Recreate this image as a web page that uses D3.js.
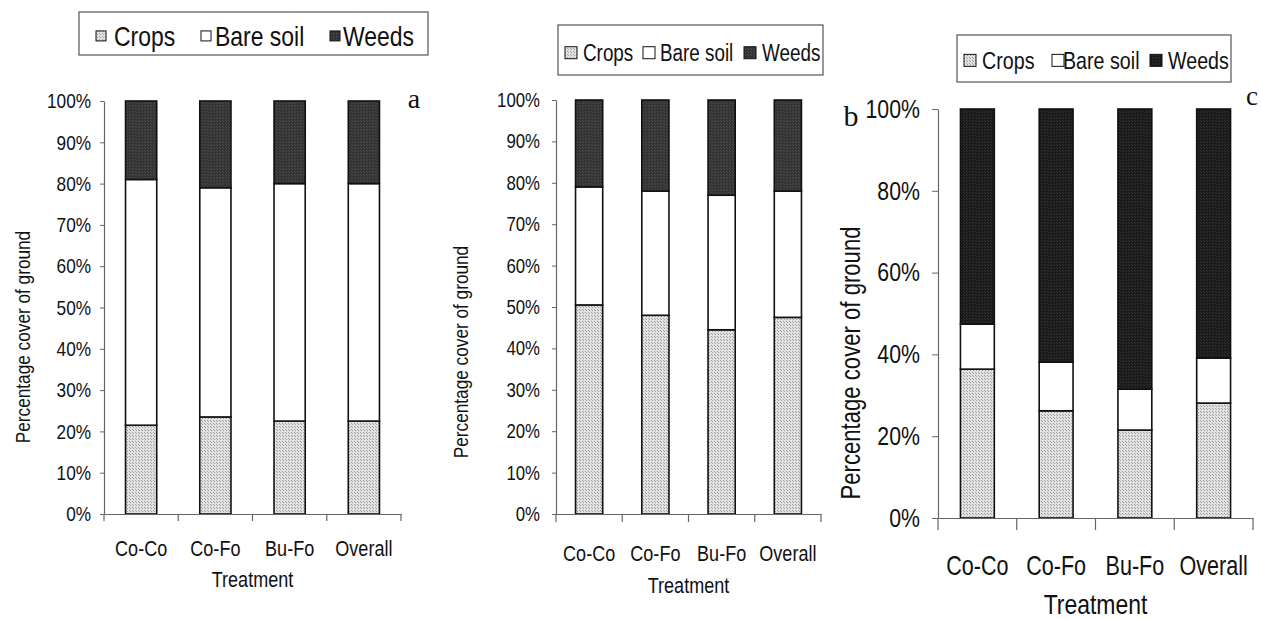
<!DOCTYPE html>
<html><head><meta charset="utf-8">
<script src="https://cdn.jsdelivr.net/npm/d3@7"></script>
<style>
html,body{margin:0;padding:0;background:#fff;}
svg{display:block;}
text{font-family:"Liberation Sans",Arial,sans-serif;fill:#111;}
.lab{font-family:"Liberation Serif","Times New Roman",serif;}
</style></head>
<body>
<svg id="chart" width="1261" height="619"></svg>
<script>
// ---- data ----
const categories = ["Co-Co", "Co-Fo", "Bu-Fo", "Overall"];
const seriesNames = ["Crops", "Bare soil", "Weeds"];
const cropsA = [21.5, 23.5, 22.5, 22.5];
const bareA  = [59.5, 55.5, 57.5, 57.5];
const weedsA = [19, 21, 20, 20];
const cropsB = [50.5, 48, 44.5, 47.5];
const bareB  = [28.5, 30, 32.5, 30.5];
const weedsB = [21, 22, 23, 22];
const cropsC = [36.4, 26.2, 21.5, 28.1];
const bareC  = [11, 11.9, 10, 11];
const weedsC = [52.6, 61.9, 68.5, 60.9];
const ticksAB = [0, 10, 20, 30, 40, 50, 60, 70, 80, 90, 100];
const ticksC  = [0, 20, 40, 60, 80, 100];
const yTitle = "Percentage cover of ground";
const xTitle = "Treatment";

const NARROW = 0.82;
const svg = d3.select("#chart");
const defs = svg.append("defs");
function pattern(id, base, dot, size) {
  const p = defs.append("pattern").attr("id", id).attr("patternUnits", "userSpaceOnUse")
    .attr("width", size).attr("height", size);
  p.append("rect").attr("width", size).attr("height", size).attr("fill", base);
  p.append("rect").attr("x", 0).attr("y", 0).attr("width", 1).attr("height", 1).attr("fill", dot);
  p.append("rect").attr("x", Math.floor(size/2)).attr("y", Math.floor(size/2)).attr("width", 1).attr("height", 1).attr("fill", dot);
}
pattern("cropsPat", "#e2e2e2", "#9c9c9c", 3);
pattern("weedsPat", "#333333", "#4e4e4e", 3);
pattern("weedsPatC", "#1a1a1a", "#343434", 3);

// condense text horizontally around its anchor point
function narrow(sel, k) {
  const s = k || NARROW;
  sel.each(function () {
    const t = d3.select(this);
    const x = +t.attr("x") || 0, y = +t.attr("y") || 0;
    const prev = t.attr("transform") || "";
    t.attr("transform", `${prev} translate(${x},${y}) scale(${s},1) translate(${-x},${-y})`);
  });
}

const panels = [
  {crops: cropsA, bare: bareA, weeds: weedsA, ticks: ticksAB, weedFill: "url(#weedsPat)",
   x0: 104, x1: 401, y0: 514, y1: 101, pad: 0.58, tickFs: 21, catFs: 22, catY: 548, titleY: 587, titleFs: 22,
   tickLen: 4, xTickLen: 7, tickPad: 13, ytX: 23, ytY: 337, ytFs: 21,
   leg: {x0: 79, x1: 428, y0: 12, y1: 55, fs: 28, base: 46, sw: 10,
         items: [[96, 114], [201, 215], [330, 343]]},
   letter: "a", lx: 414, ly: 108, lfs: 28},
  {crops: cropsB, bare: bareB, weeds: weedsB, ticks: ticksAB, weedFill: "url(#weedsPat)",
   x0: 556, x1: 821, y0: 514, y1: 100, pad: 0.59, tickFs: 20.5, catFs: 22, catY: 553, titleY: 593, titleFs: 22,
   tickLen: 4, xTickLen: 8, tickPad: 16, ytX: 461, ytY: 352, ytFs: 21,
   leg: {x0: 558, x1: 823, y0: 25, y1: 75, fs: 23, base: 61, sw: 12,
         items: [[565, 583], [643, 660], [744, 762]]},
   letter: "b", lx: 851, ly: 126, lfs: 30},
  {crops: cropsC, bare: bareC, weeds: weedsC, ticks: ticksC, weedFill: "url(#weedsPatC)",
   x0: 938, x1: 1253, y0: 518, y1: 109, pad: 0.57, tickFs: 26, catFs: 28, catY: 565, titleY: 614, titleFs: 28,
   tickLen: 6, xTickLen: 12, tickPad: 18, ytX: 851, ytY: 363, ytFs: 27,
   leg: {x0: 957, x1: 1231, y0: 35, y1: 82, fs: 24, base: 69, sw: 12,
         items: [[964, 982], [1052, 1063], [1150, 1168]]},
   letter: "c", lx: 1252, ly: 105, lfs: 27}
];

const seriesFillKeys = ["crops", "bare", "weeds"];

panels.forEach(P => {
  const g = svg.append("g");
  const rows = categories.map((c, i) => ({cat: c, crops: P.crops[i], bare: P.bare[i], weeds: P.weeds[i]}));
  const stacked = d3.stack().keys(seriesFillKeys)(rows);
  const x = d3.scaleBand().domain(categories).range([P.x0, P.x1])
    .paddingInner(P.pad).paddingOuter(P.pad / 2);
  const y = d3.scaleLinear().domain([0, 100]).range([P.y0, P.y1]);
  const fills = {crops: "url(#cropsPat)", bare: "#ffffff", weeds: P.weedFill};

  // y axis
  const ya = g.append("g").attr("transform", `translate(${P.x0},0)`)
    .call(d3.axisLeft(y).tickValues(P.ticks).tickFormat(d => d + "%").tickSize(P.tickLen).tickSizeOuter(0).tickPadding(P.tickPad - P.tickLen));
  ya.select(".domain").attr("stroke", "#666").attr("stroke-width", 1.2);
  ya.selectAll(".tick line").attr("stroke", "#666");
  ya.selectAll("text").attr("font-size", P.tickFs).attr("font-family", null).attr("fill", "#111").call(narrow);

  // bars
  stacked.forEach(s => {
    g.append("g").selectAll("rect").data(s).join("rect")
      .attr("x", d => x(d.data.cat))
      .attr("width", x.bandwidth())
      .attr("y", d => y(d[1]))
      .attr("height", d => y(d[0]) - y(d[1]))
      .attr("fill", fills[s.key])
      .attr("stroke", "#111").attr("stroke-width", 1.6);
  });

  // x axis
  const xa = g.append("g").attr("transform", `translate(0,${P.y0})`)
    .call(d3.axisBottom(x).tickSize(0));
  xa.select(".domain").attr("stroke", "#666").attr("stroke-width", 1.2);
  xa.selectAll("text").attr("font-size", P.catFs).attr("font-family", null).attr("fill", "#111")
    .attr("dy", "0.35em").attr("y", P.catY - P.y0).call(narrow, P.catFs > 26 ? 0.77 : NARROW);
  const bounds = d3.range(categories.length + 1).map(i => P.x0 + i * x.step());
  g.append("g").selectAll("line").data(bounds).join("line")
    .attr("x1", d => d).attr("x2", d => d)
    .attr("y1", P.y0).attr("y2", P.y0 + P.xTickLen)
    .attr("stroke", "#666").attr("stroke-width", 1.2);

  // titles
  g.append("text").attr("x", (P.x0 + P.x1) / 2).attr("y", P.titleY)
    .attr("text-anchor", "middle").attr("font-size", P.titleFs).text(xTitle).call(narrow);
  g.append("text").attr("transform", `translate(${P.ytX},${P.ytY}) rotate(-90)`)
    .attr("text-anchor", "middle").attr("dy", "0.35em").attr("font-size", P.ytFs).text(yTitle).call(narrow);

  // legend
  const L = P.leg;
  g.append("rect").attr("x", L.x0).attr("y", L.y0).attr("width", L.x1 - L.x0).attr("height", L.y1 - L.y0)
    .attr("fill", "#fff").attr("stroke", "#555").attr("stroke-width", 1.2);
  seriesFillKeys.forEach((k, i) => {
    const [sx, tx] = L.items[i];
    const cy = L.base - L.fs * 0.36;
    g.append("rect").attr("x", sx).attr("y", cy - L.sw / 2).attr("width", L.sw).attr("height", L.sw)
      .attr("fill", fills[k]).attr("stroke", "#111").attr("stroke-width", 1);
    g.append("text").attr("x", tx).attr("y", L.base).attr("font-size", L.fs).text(seriesNames[i]).call(narrow);
  });

  // panel letter
  g.append("text").attr("class", "lab").attr("x", P.lx).attr("y", P.ly)
    .attr("text-anchor", "middle").attr("font-size", P.lfs).text(P.letter);
});
</script>
</body></html>
